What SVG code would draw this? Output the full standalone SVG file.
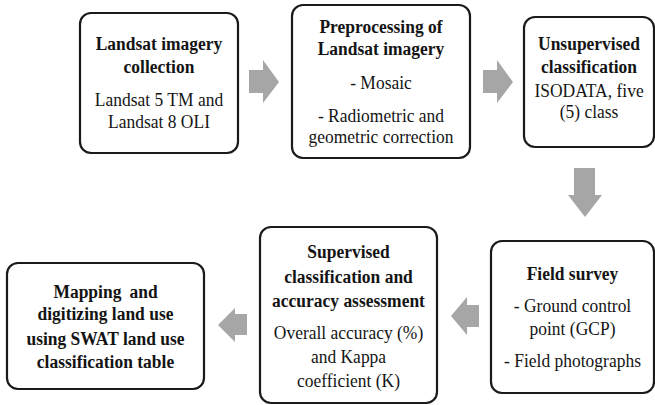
<svg xmlns="http://www.w3.org/2000/svg" width="655" height="405" viewBox="0 0 655 405">
<style>
.box{fill:#fff;stroke:#1a1a1a;stroke-width:2.2}
.arr{fill:#a6a6a6}
text{font-size:19px;fill:#141414;text-anchor:middle}
.b{font-weight:bold}
</style>
<rect width="655" height="405" fill="#fff"/>
<g id="connectors">
<polygon class="arr" points="249,70 263,70 263,60 279,82 263,103 263,93 249,93"/>
<polygon class="arr" points="483,70 497,70 497,60 513,82 497,103 497,93 483,93"/>
<polygon class="arr" points="574,168 595,168 595,195 602,195 585,217 568,195 574,195"/>
<polygon class="arr" points="479,305 467,305 467,297 451,316 467,335 467,327 479,327"/>
<polygon class="arr" points="247,314 235,314 235,308 218,325 235,342 235,335 247,335"/>
</g>
<g font-family="'Liberation Serif', 'Times New Roman', 'DejaVu Serif', serif">
<g id="n1">
<rect class="box" x="80" y="13" width="158" height="140" rx="11"/>
<g transform="translate(159 0) scale(0.92 1)">
<text class="b" x="0" y="50">Landsat imagery</text>
<text class="b" x="0" y="73">collection</text>
<text x="0" y="106">Landsat 5 TM and</text>
<text x="0" y="128">Landsat 8 OLI</text>
</g>
</g>
<g id="n2">
<rect class="box" x="292" y="5" width="178" height="153" rx="11"/>
<g transform="translate(381 0) scale(0.92 1)">
<text class="b" x="0" y="33">Preprocessing of</text>
<text class="b" x="0" y="55">Landsat imagery</text>
<text x="0" y="89">- Mosaic</text>
<text x="0" y="122">- Radiometric and</text>
<text x="0" y="143">geometric correction</text>
</g>
</g>
<g id="n3">
<rect class="box" x="524" y="17" width="130" height="130" rx="11"/>
<g transform="translate(589 0) scale(0.92 1)">
<text class="b" x="0" y="50">Unsupervised</text>
<text class="b" x="0" y="73">classification</text>
<text x="0" y="97">ISODATA, five</text>
<text x="0" y="118">(5) class</text>
</g>
</g>
<g id="n4">
<rect class="box" x="491" y="241" width="163" height="152" rx="11"/>
<g transform="translate(572.5 0) scale(0.92 1)">
<text class="b" x="0" y="280">Field survey</text>
<text x="0" y="312">- Ground control</text>
<text x="0" y="335">point (GCP)</text>
<text x="0" y="367">- Field photographs</text>
</g>
</g>
<g id="n5">
<rect class="box" x="260" y="227" width="177" height="176" rx="11"/>
<g transform="translate(348.5 0) scale(0.92 1)">
<text class="b" x="0" y="258">Supervised</text>
<text class="b" x="0" y="283">classification and</text>
<text class="b" x="0" y="307">accuracy assessment</text>
<text x="0" y="339">Overall accuracy (%)</text>
<text x="0" y="363">and Kappa</text>
<text x="0" y="387">coefficient (K)</text>
</g>
</g>
<g id="n6">
<rect class="box" x="7" y="263" width="197" height="126" rx="11"/>
<g transform="translate(105.5 0) scale(0.92 1)">
<text class="b" x="0" y="298" word-spacing="4">Mapping and</text>
<text class="b" x="0" y="320">digitizing land use</text>
<text class="b" x="0" y="345">using SWAT land use</text>
<text class="b" x="0" y="368">classification table</text>
</g>
</g>
</g>
</svg>
